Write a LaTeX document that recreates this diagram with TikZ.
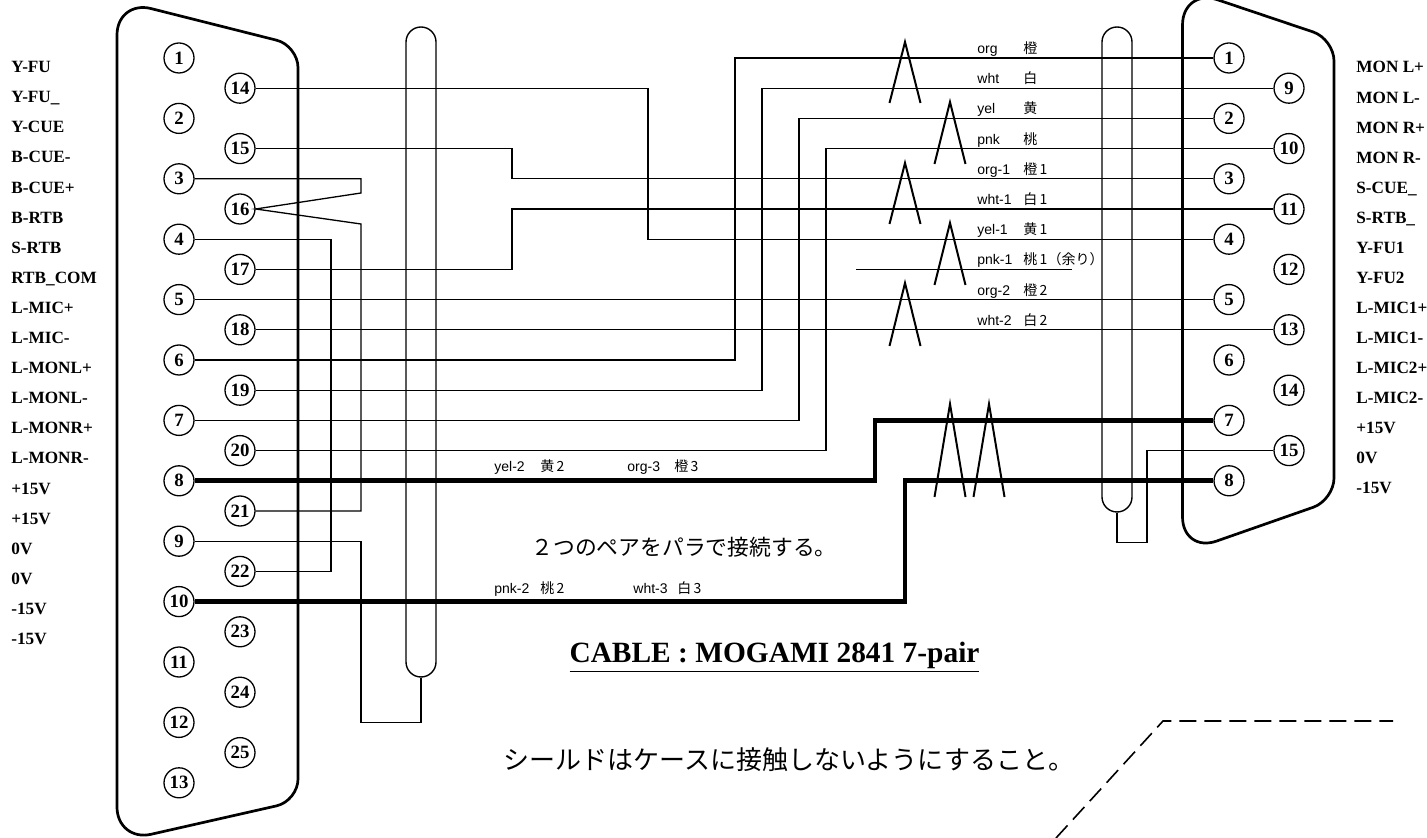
\documentclass[tikz,border=0pt]{standalone}
\usepackage{fontspec}
\setmainfont{Liberation Serif}
\setsansfont{Liberation Sans}
\newfontfamily\jpfont{Noto Sans CJK JP}

\begin{document}
\begin{tikzpicture}[x=0.5pt,y=-0.5pt,
  pin/.style={draw,circle,inner sep=0,minimum size=15pt,line width=.65pt,
    font=\fontsize{9.4}{9.4}\selectfont\bfseries},
  sig/.style={anchor=base west,inner sep=0,font=\fontsize{8.6}{9}\selectfont\bfseries},
  tag/.style={anchor=base west,inner sep=0,font=\fontsize{7}{7}\selectfont\sffamily},
  jtag/.style={anchor=base west,inner sep=0,font=\fontsize{7}{7}\selectfont\jpfont},
  wire/.style={line width=.65pt},
  pair/.style={line width=2.3pt},
  twist/.style={line width=1pt},
  shell/.style={line width=1.35pt},
  shieldbox/.style={draw,line width=.7pt,rounded corners=7.5pt,minimum width=15pt,inner sep=0}]
\useasboundingbox (0,0) rectangle (1427,838);

% DB25 and DB15 shells
\draw[shell] (117,420) [rounded corners=17.5pt] -- (117,0) [rounded corners=11pt] -- (298,45.6)
  -- (298,801) [rounded corners=17.5pt] -- (117,842) -- cycle;
\draw[shell] (1182.5,250) [rounded corners=18.5pt] -- (1182.5,-12) [rounded corners=11pt] -- (1334,39)
  -- (1334,500) [rounded corners=18pt] -- (1182.5,553) -- cycle;

% pins
\foreach \n in {1,...,13}
  \node[pin] (L-\n) at (179,{58+60.4*(\n-1)}) {\n};
\foreach \n in {14,...,25}
  \node[pin] (L-\n) at (240,{88.2+60.4*(\n-14)}) {\n};
\foreach \n in {1,...,8}
  \node[pin] (R-\n) at (1229,{58+60.4*(\n-1)}) {\n};
\foreach \n in {9,...,15}
  \node[pin] (R-\n) at (1289,{88.2+60.4*(\n-9)}) {\n};

% signal names
\foreach \t [count=\i from 0] in {Y-FU,Y-FU\_,Y-CUE,B-CUE-,B-CUE+,B-RTB,S-RTB,RTB\_COM,
    L-MIC+,L-MIC-,L-MONL+,L-MONL-,L-MONR+,L-MONR-,+15V,+15V,0V,0V,-15V,-15V}
  \node[sig] (ls-\i) at (11,{72.7+30.1*\i}) {\t};
\foreach \t [count=\i from 0] in {MON L+,MON L-,MON R+,MON R-,S-CUE\_,S-RTB\_,Y-FU1,Y-FU2,
    L-MIC1+,L-MIC1-,L-MIC2+,L-MIC2-,+15V,0V,-15V}
  \node[sig] (rs-\i) at (1356,{73+30.05*\i}) {\t};

% shields
\node[shieldbox,minimum height=325pt] (sh-1) at (421,352) {};
\node[shieldbox,minimum height=242.5pt] (sh-2) at (1117,269.5) {};

\coordinate (v-b) at (361,0);
\coordinate (v-c) at (331,0);
\coordinate (v-d) at (512,0);
\coordinate (v-e) at (648,0);
\coordinate (v-1) at (735,0);
\coordinate (v-2) at (762,0);
\coordinate (v-3) at (799,0);
\coordinate (v-4) at (826,0);
\coordinate (v-p) at (875,0);
\coordinate (v-q) at (905,0);
\coordinate (v-s) at (1147,0);
\coordinate (br-a) at (361,193);
\coordinate (br-b) at (361,224);

% jumpers on the DB25
\draw[wire] (L-3.east) -| (br-a) -- (L-16.east) -- (br-b) |- (L-21.east);
\draw[wire] (L-4.east) -| (v-c |- L-22) -- (L-22.east);
\draw[wire] (sh-1.south) -- ++(0,45) -| (v-b |- L-9) -- (L-9.east);
\draw[wire] (sh-2.south) -- ++(0,30) -| (v-s |- R-15) -- (R-15.west);

% pairs
\draw[wire] (L-6.east) -| (v-1 |- R-1) -- (R-1.west);
\draw[wire] (L-19.east) -| (v-2 |- R-9) -- (R-9.west);
\draw[wire] (L-7.east) -| (v-3 |- R-2) -- (R-2.west);
\draw[wire] (L-20.east) -| (v-4 |- R-10) -- (R-10.west);
\draw[wire] (L-15.east) -| (v-d |- R-3) -- (R-3.west);
\draw[wire] (L-17.east) -| (v-d |- R-11) -- (R-11.west);
\draw[wire] (L-14.east) -| (v-e |- R-4) -- (R-4.west);
\draw[wire] (L-5.east) -- (R-5.west);
\draw[wire] (L-18.east) -- (R-13.west);
\draw[pair] (L-8.east) -| (v-p |- R-7) -- (R-7.west);
\draw[pair] (L-10.east) -| (v-q |- R-8) -- (R-8.west);
% spare
\coordinate (sp-a) at (856,269.4);
\coordinate (sp-b) at (1072,269.4);
\draw[wire] (sp-a) -- (sp-b);

% twist marks
\foreach \x/\y/\h in {905/42/61,950/102/62,905/163/61,950/223/62,905/283/63,950/404/93,989/404/93}
  \draw[twist] ({\x-15.5},{\y+\h}) -- (\x,\y) -- ({\x+15.5},{\y+\h});

% colour codes
\foreach \en/\ja [count=\r from 0] in {org/橙,wht/白,yel/黄,pnk/桃,org-1/橙\,1,wht-1/白\,1,
    yel-1/黄\,1,pnk-1/桃\,1（余り）,org-2/橙\,2,wht-2/白\,2} {
  \node[tag] (te-\r) at (977,{53.5+30.2*\r}) {\en};
  \node[jtag] (tj-\r) at (1023,{53.5+30.2*\r}) {\ja};
}
\node[tag] (tp-1) at (494,472) {yel-2};
\node[jtag] (tq-1) at (540,472) {黄\,2};
\node[tag] (tp-2) at (627,472) {org-3};
\node[jtag] (tq-2) at (674,472) {橙\,3};
\node[tag] (tp-3) at (494,593) {pnk-2};
\node[jtag] (tq-3) at (540,593) {桃\,2};
\node[tag] (tp-4) at (633,593) {wht-3};
\node[jtag] (tq-4) at (677,593) {白\,3};

% notes
\node[font=\fontsize{10.9}{12}\selectfont\jpfont] (note-1) at (684,547) {２つのペアをパラで接続する。};
\node[anchor=base,font=\fontsize{14.7}{15}\selectfont\bfseries] (cable) at (774.5,662)
  {\underline{CABLE : MOGAMI 2841 7-pair}};
\node[font=\fontsize{13}{14}\selectfont\jpfont] (note-2) at (789,760) {シールドはケースに接触しないようにすること。};

\coordinate (d-a) at (1056,838);
\coordinate (d-b) at (1163,721);
\coordinate (d-c) at (1393,721);
\draw[line width=.8pt,dash pattern=on 8.5pt off 4pt] (d-a) -- (d-b) -- (d-c);
\end{tikzpicture}
\end{document}
